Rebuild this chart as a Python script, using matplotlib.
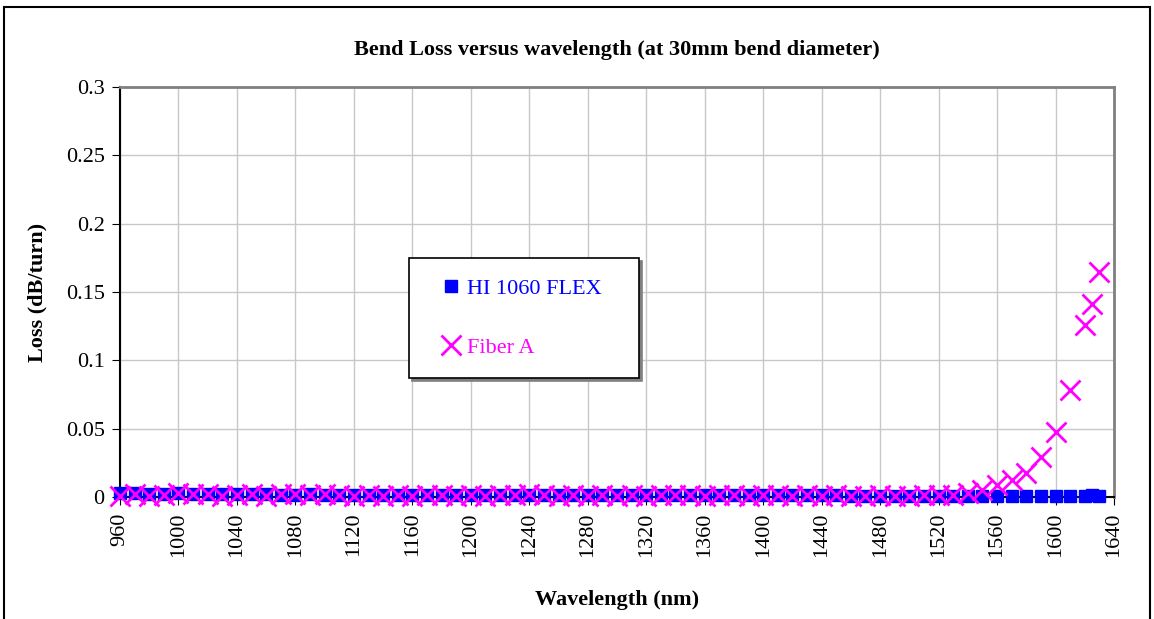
#!/usr/bin/env python3
"""Bend loss versus wavelength at 30 mm bend diameter."""

import matplotlib
matplotlib.use("Agg")
import matplotlib.pyplot as plt
from matplotlib.patches import Rectangle
from matplotlib.ticker import MultipleLocator

wavelength = [
    960, 970, 980, 990, 1000, 1010, 1020, 1030, 1040, 1050,
    1060, 1070, 1080, 1090, 1100, 1110, 1120, 1130, 1140, 1150,
    1160, 1170, 1180, 1190, 1200, 1210, 1220, 1230, 1240, 1250,
    1260, 1270, 1280, 1290, 1300, 1310, 1320, 1330, 1340, 1350,
    1360, 1370, 1380, 1390, 1400, 1410, 1420, 1430, 1440, 1450,
    1460, 1470, 1480, 1490, 1500, 1510, 1520, 1530, 1540, 1550,
    1560, 1570, 1580, 1590, 1600, 1610, 1620, 1625, 1630,
]

hi1060_flex = [
    0.003, 0.003, 0.0025, 0.0025, 0.003, 0.0025, 0.002, 0.002, 0.002, 0.0025,
    0.002, 0.0018, 0.0018, 0.002, 0.0018, 0.0015, 0.0015, 0.0015, 0.0015, 0.0015,
    0.0015, 0.0015, 0.0015, 0.0015, 0.0015, 0.0015, 0.0015, 0.0015, 0.0015, 0.0015,
    0.0012, 0.0012, 0.0012, 0.0012, 0.0012, 0.0012, 0.0012, 0.0015, 0.0015, 0.0015,
    0.0015, 0.0015, 0.0015, 0.0012, 0.0012, 0.0015, 0.0015, 0.0015, 0.0012, 0.0012,
    0.001, 0.001, 0.001, 0.001, 0.001, 0.001, 0.001, 0.001, 0.001, 0.001,
    0.0008, 0.0008, 0.0007, 0.0007, 0.0007, 0.0007, 0.0007, 0.0012, 0.0005,
]

fiber_a = [
    0.001, 0.002, 0.001, 0.0015, 0.003, 0.002, 0.002, 0.001, 0.0015, 0.002,
    0.001, 0.002, 0.002, 0.0015, 0.002, 0.0015, 0.001, 0.0015, 0.001, 0.0015,
    0.001, 0.0015, 0.0015, 0.001, 0.0015, 0.001, 0.0015, 0.0015, 0.002, 0.0015,
    0.001, 0.0015, 0.001, 0.0015, 0.001, 0.0015, 0.001, 0.0015, 0.0015, 0.0015,
    0.001, 0.0015, 0.0015, 0.001, 0.0015, 0.0015, 0.001, 0.0015, 0.001, 0.0015,
    0.001, 0.001, 0.0015, 0.001, 0.001, 0.0012, 0.0012, 0.0015, 0.003, 0.0049,
    0.0085, 0.0122, 0.0176, 0.029, 0.0476, 0.078, 0.1256, 0.141, 0.1646,
]

FONT = "Liberation Serif"

plt.rcParams.update(
    {
        "font.family": FONT,
        "font.size": 16,
        "figure.facecolor": "white",
        "axes.facecolor": "white",
    }
)

fig = plt.figure(figsize=(11.54, 6.19), dpi=100)
ax = fig.add_axes([120 / 1154, 1 - 497 / 619, 994 / 1154, 410 / 619])

ax.plot(wavelength, hi1060_flex, linestyle="none", marker="s", markersize=8,
        color="#0000ff", label="HI 1060 FLEX", zorder=3, clip_on=False)
ax.plot(wavelength, fiber_a, linestyle="none", marker="x", markersize=14,
        markeredgewidth=2, color="#ff00ff", label="Fiber A", zorder=4,
        clip_on=False)

ax.set_xlim(960, 1640)
ax.set_ylim(0, 0.3)
ax.xaxis.set_major_locator(MultipleLocator(40))
ax.yaxis.set_major_locator(MultipleLocator(0.05))
ax.yaxis.set_major_formatter(lambda v, _: f"{v:g}")
ax.tick_params(axis="x", labelrotation=90, direction="out", length=6, pad=5,
               labelsize=16)
ax.tick_params(axis="y", direction="out", length=6, pad=5, labelsize=16)
ax.grid(True, color="#c8c8c8", linewidth=1.0)
ax.set_axisbelow(True)

for side in ("left", "bottom"):
    ax.spines[side].set_color("black")
    ax.spines[side].set_linewidth(1.5)
for side in ("top", "right"):
    ax.spines[side].set_color("#808080")
    ax.spines[side].set_linewidth(2)

ax.set_xlabel("Wavelength (nm)", fontweight="bold", fontsize=16, labelpad=24)
ax.set_ylabel("Loss (dB/turn)", fontweight="bold", fontsize=16, labelpad=13)
ax.set_title("Bend Loss versus wavelength (at 30mm bend diameter)",
             fontweight="bold", fontsize=16, pad=23)

leg = ax.legend(
    loc="upper left",
    bbox_to_anchor=(0.291, 0.583, 0.231, 0.0),
    mode="expand",
    frameon=True,
    fancybox=False,
    edgecolor="black",
    framealpha=1,
    borderpad=0.9,
    labelspacing=1.75,
    handlelength=2.0,
    handletextpad=-0.3,
    borderaxespad=0,
    fontsize=16,
    shadow={"ox": 2, "oy": -2, "color": "#808080", "alpha": 1},
)
for text, col in zip(leg.get_texts(), ["#0000ff", "#ff00ff"]):
    text.set_color(col)
leg.get_frame().set_linewidth(1.2)

fig.add_artist(Rectangle((4 / 1154, -0.02), 1146 / 1154, 1 - 7 / 619 + 0.02,
                         transform=fig.transFigure, fill=False,
                         edgecolor="black", linewidth=1.5))

fig.savefig("out.png", dpi=100)
